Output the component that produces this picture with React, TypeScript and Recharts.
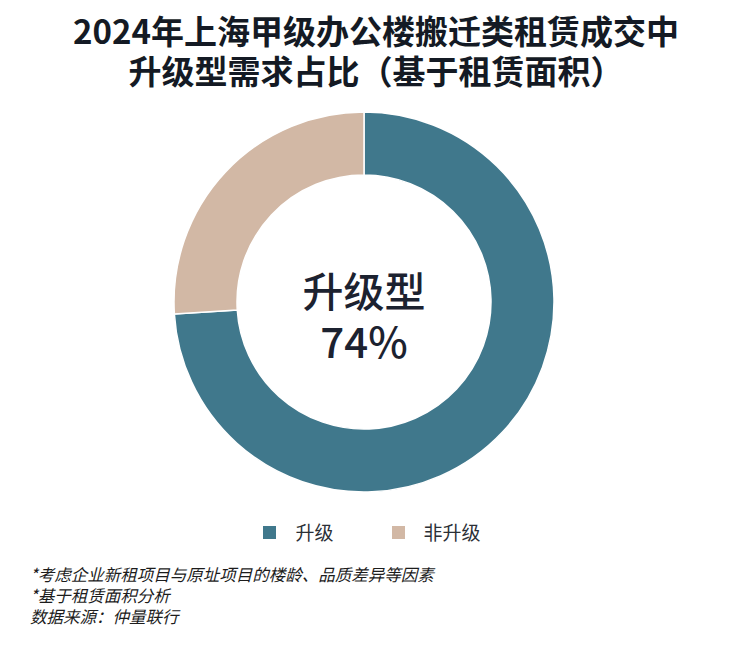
import React from "react"
import { PieChart, Pie, Cell } from "recharts"

const categories = ["升级", "非升级"]
const shares = [74, 26]
const colors = ["#40788C", "#D2B8A5"]

const titleLines = ["2024年上海甲级办公楼搬迁类租赁成交中", "升级型需求占比（基于租赁面积）"]
const centerLines = ["升级型", "74%"]
const notes = [
  "*考虑企业新租项目与原址项目的楼龄、品质差异等因素",
  "*基于租赁面积分析",
  "数据来源：仲量联行",
]

const data = categories.map((name, i) => ({ name, value: shares[i] }))

const font = '"Noto Sans CJK SC", "Noto Sans", sans-serif'

function LegendRow() {
  return (
    <div style={{ position: "absolute", left: 0, top: 519, width: 744, display: "flex", justifyContent: "center", fontSize: 19, lineHeight: "26px", color: "#2b2f36" }}>
      {categories.map((c, i) => (
        <div key={c} style={{ display: "flex", alignItems: "center", marginLeft: i ? 58 : 0 }}>
          <span style={{ width: 13, height: 13, background: colors[i], display: "inline-block", marginRight: 19 }} />
          <span>{c}</span>
        </div>
      ))}
    </div>
  )
}

export default function App() {
  return (
    <div style={{ position: "absolute", left: 0, top: 0, width: 744, height: 648, background: "#fff", fontFamily: font }}>
      <div style={{ position: "absolute", left: 4, top: 10, width: 744, textAlign: "center", fontSize: 33, fontWeight: 700, lineHeight: "40px", color: "#141a24" }}>
        {titleLines.map((t) => (
          <div key={t}>{t}</div>
        ))}
      </div>
      <PieChart width={744} height={648} margin={{ top: 0, right: 0, bottom: 0, left: 0 }} style={{ position: "absolute", left: 0, top: 0 }}>
        <Pie
          data={data}
          dataKey="value"
          nameKey="name"
          cx={364}
          cy={302}
          outerRadius={190}
          innerRadius={127}
          startAngle={90}
          endAngle={-270}
          stroke="#fff"
          strokeWidth={1.5}
          isAnimationActive={false}
        >
          {data.map((d, i) => (
            <Cell key={d.name} fill={colors[i]} />
          ))}
        </Pie>
      </PieChart>
      <div style={{ position: "absolute", left: 0, top: 263, width: 728, textAlign: "center", color: "#1c2230", fontWeight: 500, pointerEvents: "none" }}>
        <div style={{ fontSize: 41, lineHeight: "52px" }}>{centerLines[0]}</div>
        <div style={{ fontSize: 42, lineHeight: "50px" }}>{centerLines[1]}</div>
      </div>
      <LegendRow />
      <div style={{ position: "absolute", left: 30, top: 564, fontSize: 16.5, fontStyle: "italic", lineHeight: "21px", color: "#1c1c1c" }}>
        {notes.map((n) => (
          <div key={n}>{n}</div>
        ))}
      </div>
    </div>
  )
}
